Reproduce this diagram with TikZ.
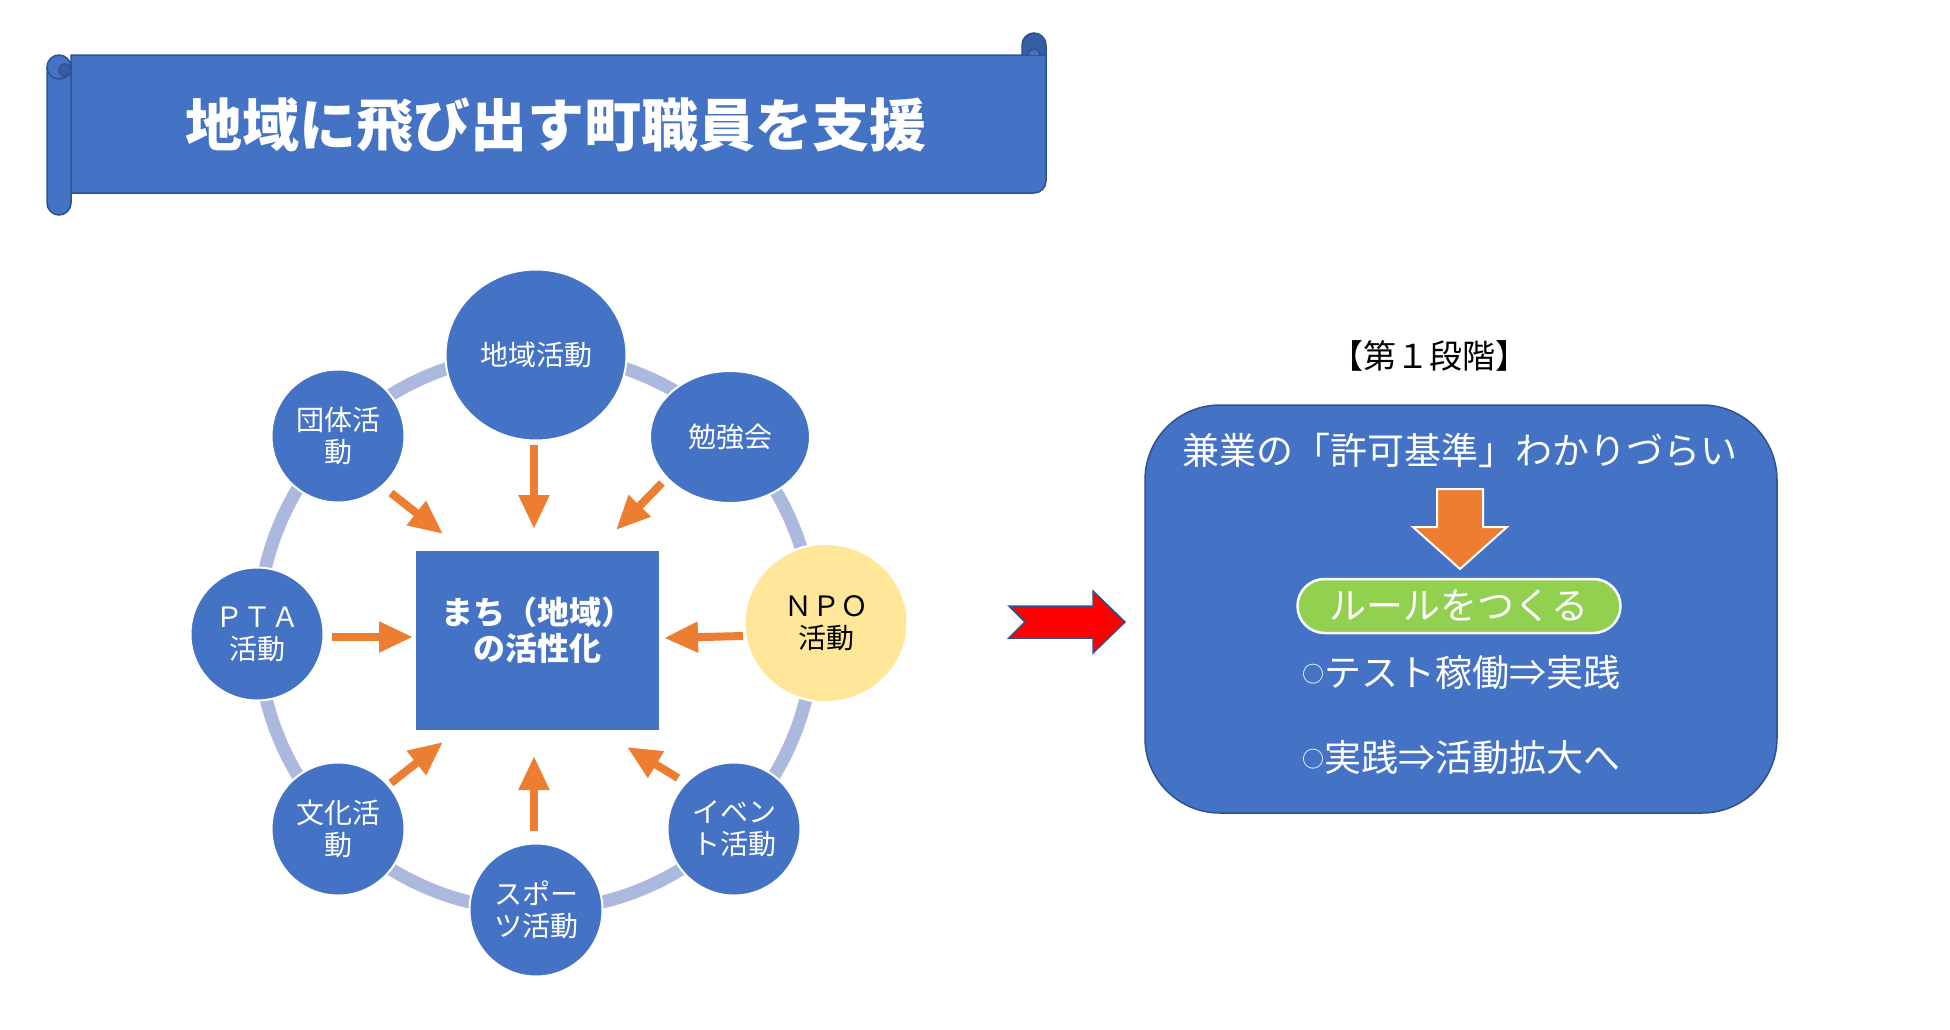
\documentclass[tikz,border=0pt]{standalone}
\usepackage{fontspec}
\setmainfont{Noto Sans CJK JP}
\usetikzlibrary{arrows.meta,shapes.geometric}
\definecolor{mblue}{RGB}{68,114,196}
\definecolor{dblue}{RGB}{47,82,143}
\definecolor{rollshade}{RGB}{55,94,165}
\definecolor{ringc}{RGB}{171,185,222}
\definecolor{orng}{RGB}{237,125,49}
\definecolor{yel}{RGB}{255,230,153}
\definecolor{grn}{RGB}{146,208,80}
\definecolor{redarrow}{RGB}{255,0,0}
\newcommand{\smallcirc}{\raisebox{2pt}{\fontsize{11pt}{11pt}\selectfont ○}}
\begin{document}
\begin{tikzpicture}[x=0.5pt,y=-0.5pt,
  band/.style={fill=mblue,draw=dblue,line width=0.75pt},
  actnode/.style={ellipse,fill=mblue,draw=white,line width=1pt,inner sep=0pt,text=white,align=center,font=\fontsize{14pt}{16pt}\selectfont},
  smallact/.style={actnode,minimum width=66.5pt,minimum height=66.5pt},
  oarrow/.style={draw=orng,line width=4pt,-{Triangle[width=14.5pt,length=17pt]}},
  boxtext/.style={text=white,font=\fontsize{18.5pt}{22pt}\selectfont,inner sep=0pt}
]
\useasboundingbox[fill=white] (0,0) rectangle (1950,1029);

% ---- banner (scroll) ----
\draw[band] (71,55) -- (1046,55) -- (1046,181) arc[start angle=0,end angle=90,radius=12] -- (71,193) -- cycle;
\draw[band,rounded corners=6pt] (47,55) rectangle (71,215);
\draw[dblue,line width=0.75pt] (47,67) arc[start angle=180,end angle=0,radius=12];
\draw[fill=rollshade,draw=dblue,line width=0.75pt] (65,70) circle[radius=6];
\draw[fill=rollshade,draw=dblue,line width=0.75pt] (1022,55) -- (1022,45) arc[start angle=180,end angle=360,radius=12] -- (1046,55);
\draw[band] (1028,55) arc[start angle=180,end angle=360,radius=6];
\node[text=white,font=\fontsize{28.5pt}{30pt}\selectfont\bfseries] (title) at (556,125) {地域に飛び出す町職員を支援};

% ---- ring of activities ----
\draw[ringc,line width=6.5pt] (536,632) circle[radius=278];
\node[actnode,minimum width=90.5pt,minimum height=85.5pt] (n1) at (536,355) {地域活動};
\node[actnode,minimum width=80pt,minimum height=66pt] (n2) at (730,437) {勉強会};
\node[actnode,fill=yel,text=black,minimum width=81.5pt,minimum height=79pt] (n3) at (826,623) {ＮＰＯ\\活動};
\node[smallact] (n4) at (734,829) {イベン\\ト活動};
\node[smallact] (n5) at (536,910) {スポー\\ツ活動};
\node[smallact] (n6) at (338,829) {文化活\\動};
\node[smallact] (n7) at (257,634) {ＰＴＡ\\活動};
\node[smallact] (n8) at (338,436) {団体活\\動};

\node[fill=mblue,minimum width=121.5pt,minimum height=89.5pt,inner sep=0pt] (sq) at (537.5,640.5) {};
\node[text=white,align=center,inner sep=0pt,font=\fontsize{16pt}{18pt}\selectfont\bfseries] (sqt) at (537,630) {まち（地域）\\の活性化};

% ---- orange arrows toward the centre ----
\coordinate (a1s) at (534,445); \coordinate (a1e) at (534,529);
\coordinate (a2s) at (391,493); \coordinate (a2e) at (443,534);
\coordinate (a3s) at (662,483); \coordinate (a3e) at (616,530);
\coordinate (a4s) at (332,637); \coordinate (a4e) at (413,637);
\coordinate (a5s) at (743,636); \coordinate (a5e) at (664,638);
\coordinate (a6s) at (391,783); \coordinate (a6e) at (443,742);
\coordinate (a7s) at (534,831); \coordinate (a7e) at (534,756);
\coordinate (a8s) at (678,778); \coordinate (a8e) at (627,747);
\foreach \i in {1,...,8} {\draw[oarrow] (a\i s) -- (a\i e);}

% ---- red arrow ----
\draw[fill=redarrow,draw=dblue,line width=0.75pt] (1009,606) -- (1093,606) -- (1093,591) -- (1125,622) -- (1093,653) -- (1093,638) -- (1009,638) -- (1025,622) -- cycle;

% ---- right panel ----
\node[text=black,inner sep=0pt,font=\fontsize{16.5pt}{18pt}\selectfont] (stage) at (1429,356) {【第１段階】};
\node[draw=dblue,fill=mblue,line width=0.75pt,rounded corners=37.5pt,minimum width=316pt,minimum height=204pt] (box) at (1461,609) {};
\node[boxtext] (t1) at (1460,450) {兼業の「許可基準」わかりづらい};
\draw[fill=orng,draw=white,line width=1pt] (1437,489) -- (1483,489) -- (1483,527) -- (1507,527) -- (1460,569) -- (1413,527) -- (1437,527) -- cycle;
\node[boxtext,fill=grn,draw=white,line width=1.25pt,rounded corners=13.5pt,minimum width=161.5pt,minimum height=27pt] (rule) at (1459,606) {ルールをつくる};
\node[boxtext] (t2) at (1461,672) {\smallcirc テスト稼働⇒実践};
\node[boxtext] (t3) at (1461,757) {\smallcirc 実践⇒活動拡大へ};
\end{tikzpicture}
\end{document}
